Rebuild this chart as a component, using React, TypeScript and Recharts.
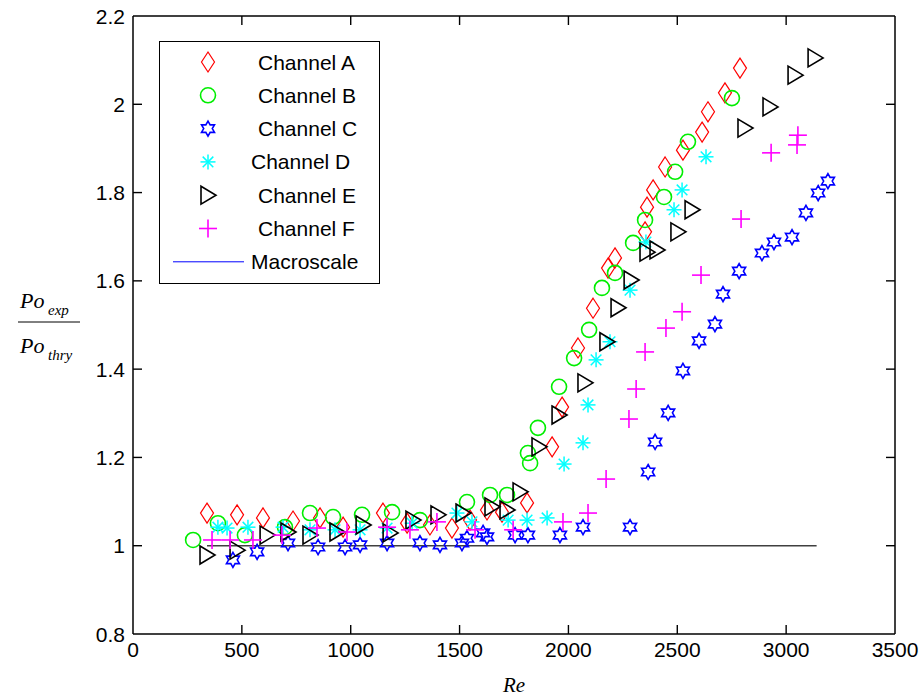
import React from "react";
import { ScatterChart, Scatter, XAxis, YAxis } from "recharts";

// Re (x) and Po_exp/Po_thry (y) for each channel
const reA = [340, 478, 597, 735, 859, 965, 1148, 1259, 1364, 1465, 1548, 1626, 1695, 1810, 1925, 1971, 2044, 2113, 2182, 2214, 2352, 2361, 2389, 2444, 2526, 2614, 2641, 2719, 2788];
const poA = [1.074, 1.07, 1.063, 1.056, 1.063, 1.042, 1.074, 1.051, 1.047, 1.04, 1.058, 1.081, 1.076, 1.097, 1.224, 1.314, 1.448, 1.538, 1.629, 1.652, 1.711, 1.767, 1.806, 1.858, 1.896, 1.937, 1.983, 2.026, 2.082];

const reB = [276, 390, 514, 698, 813, 919, 1052, 1190, 1318, 1534, 1640, 1718, 1824, 1814, 1860, 1957, 2026, 2095, 2154, 2214, 2297, 2352, 2439, 2490, 2549, 2751];
const poB = [1.013, 1.051, 1.024, 1.042, 1.074, 1.065, 1.07, 1.076, 1.058, 1.099, 1.115, 1.115, 1.187, 1.21, 1.267, 1.36, 1.425, 1.489, 1.584, 1.618, 1.686, 1.738, 1.79, 1.847, 1.915, 2.014];

const reC = [459, 570, 712, 850, 974, 1043, 1167, 1318, 1410, 1511, 1534, 1608, 1626, 1755, 1814, 1961, 2067, 2283, 2366, 2398, 2458, 2526, 2600, 2673, 2710, 2784, 2889, 2944, 3027, 3091, 3147, 3192];
const poC = [0.968, 0.986, 1.006, 0.997, 0.997, 1.002, 1.006, 1.006, 1.002, 1.006, 1.017, 1.029, 1.02, 1.024, 1.024, 1.024, 1.042, 1.042, 1.167, 1.235, 1.301, 1.396, 1.464, 1.502, 1.57, 1.622, 1.663, 1.688, 1.699, 1.754, 1.799, 1.826];

const reD = [390, 432, 528, 689, 813, 928, 1043, 1167, 1282, 1488, 1557, 1723, 1810, 1902, 1980, 2067, 2090, 2127, 2191, 2283, 2356, 2485, 2522, 2632];
const poD = [1.042, 1.04, 1.042, 1.042, 1.036, 1.036, 1.036, 1.04, 1.051, 1.074, 1.054, 1.058, 1.058, 1.063, 1.185, 1.233, 1.319, 1.421, 1.462, 1.579, 1.688, 1.761, 1.806, 1.881];

const reE = [340, 478, 616, 712, 813, 937, 1057, 1181, 1286, 1401, 1516, 1649, 1718, 1778, 1865, 1957, 2076, 2177, 2228, 2288, 2361, 2407, 2503, 2568, 2811, 2926, 3041, 3133];
const poE = [0.979, 0.99, 1.024, 1.031, 1.024, 1.031, 1.047, 1.029, 1.058, 1.07, 1.074, 1.088, 1.081, 1.122, 1.224, 1.296, 1.369, 1.462, 1.539, 1.602, 1.665, 1.67, 1.711, 1.761, 1.946, 1.994, 2.066, 2.105];

const reF = [363, 446, 551, 684, 845, 983, 1167, 1272, 1396, 1571, 1746, 1975, 2090, 2173, 2278, 2311, 2352, 2448, 2522, 2609, 2793, 2931, 3050, 3054];
const poF = [1.013, 1.013, 1.013, 1.024, 1.04, 1.031, 1.042, 1.036, 1.054, 1.036, 1.036, 1.054, 1.074, 1.151, 1.287, 1.355, 1.439, 1.493, 1.53, 1.613, 1.74, 1.89, 1.908, 1.93];

const reMacro = [340, 3140];
const poMacro = [1, 1];

const xTicks = [0, 500, 1000, 1500, 2000, 2500, 3000, 3500];
const yTicks = [0.8, 1, 1.2, 1.4, 1.6, 1.8, 2, 2.2];

const X_MIN = 0;
const X_MAX = 3500;
const Y_MIN = 0.8;
const Y_MAX = 2.2;
const TICK_LEN = 9;

const zip = (xs: number[], ys: number[]) => xs.map((x, i) => ({ x, y: ys[i] }));

const diamond = (color: string) => (p: any) => (
  <path
    d={`M${p.cx},${p.cy - 10} L${p.cx + 6.5},${p.cy} L${p.cx},${p.cy + 10} L${p.cx - 6.5},${p.cy} Z`}
    fill="none"
    stroke={color}
    strokeWidth={1.2}
  />
);

const circle = (color: string) => (p: any) => (
  <circle cx={p.cx} cy={p.cy} r={7.5} fill="none" stroke={color} strokeWidth={1.6} />
);

const hexagram = (color: string) => (p: any) => {
  const pts: string[] = [];
  for (let i = 0; i < 12; i++) {
    const r = i % 2 === 0 ? 7.5 : 4.3;
    const a = (Math.PI / 6) * i - Math.PI / 2;
    pts.push(`${p.cx + r * Math.cos(a)},${p.cy + r * Math.sin(a)}`);
  }
  return <polygon points={pts.join(" ")} fill="none" stroke={color} strokeWidth={1.6} />;
};

const asterisk = (color: string) => (p: any) => {
  const r = 7.5;
  return (
    <g stroke={color} strokeWidth={1.5}>
      <line x1={p.cx - r} y1={p.cy} x2={p.cx + r} y2={p.cy} />
      <line x1={p.cx} y1={p.cy - r} x2={p.cx} y2={p.cy + r} />
      <line x1={p.cx - 5.3} y1={p.cy - 5.3} x2={p.cx + 5.3} y2={p.cy + 5.3} />
      <line x1={p.cx - 5.3} y1={p.cy + 5.3} x2={p.cx + 5.3} y2={p.cy - 5.3} />
    </g>
  );
};

const triangle = (color: string) => (p: any) => (
  <path
    d={`M${p.cx - 7},${p.cy - 9} L${p.cx + 8},${p.cy} L${p.cx - 7},${p.cy + 9} Z`}
    fill="none"
    stroke={color}
    strokeWidth={1.6}
  />
);

const plus = (color: string) => (p: any) => (
  <g stroke={color} strokeWidth={1.6}>
    <line x1={p.cx - 9} y1={p.cy} x2={p.cx + 9} y2={p.cy} />
    <line x1={p.cx} y1={p.cy - 9} x2={p.cx} y2={p.cy + 9} />
  </g>
);

// inward axis tick marks, drawn as a marker at the frame edge
const tickMark = (dx: number, dy: number) => (p: any) => (
  <line x1={p.cx} y1={p.cy} x2={p.cx + dx * TICK_LEN} y2={p.cy + dy * TICK_LEN} stroke="#000" strokeWidth={1.4} />
);

const series = [
  { name: "Channel A", data: zip(reA, poA), color: "#ff0000", shape: diamond },
  { name: "Channel B", data: zip(reB, poB), color: "#00ee00", shape: circle },
  { name: "Channel C", data: zip(reC, poC), color: "#0000ff", shape: hexagram },
  { name: "Channel D", data: zip(reD, poD), color: "#00ffff", shape: asterisk },
  { name: "Channel E", data: zip(reE, poE), color: "#000000", shape: triangle },
  { name: "Channel F", data: zip(reF, poF), color: "#ff00ff", shape: plus },
];

const sans = "'Liberation Sans', Arial, sans-serif";
const serif = "'Liberation Serif', 'Times New Roman', serif";

const fmtY = (v: number) => String(+Number(v).toFixed(1));

function BottomTick(p: any) {
  return (
    <text x={p.x} y={p.y + 15} textAnchor="middle" fontFamily={sans} fontSize={21}>
      {p.payload.value}
    </text>
  );
}

function LeftTick(p: any) {
  return (
    <text x={p.x} y={p.y + 7.5} textAnchor="end" fontFamily={sans} fontSize={21}>
      {fmtY(p.payload.value)}
    </text>
  );
}

function MatlabLegend() {
  const rowH = 33.3;
  return (
    <svg width={222} height={244} style={{ display: "block" }}>
      <rect x={0.5} y={0.5} width={220} height={242} fill="#fff" stroke="#000" strokeWidth={1} />
      {series.map((s, i) => {
        const cy = 21 + i * rowH;
        return (
          <g key={s.name}>
            {s.shape(s.color)({ cx: 49, cy })}
            <text x={s.name === "Channel D" ? 92 : 99} y={cy + 7.5} fontFamily={sans} fontSize={21}>
              {s.name}
            </text>
          </g>
        );
      })}
      <line x1={14} y1={21 + 6 * rowH} x2={85} y2={21 + 6 * rowH} stroke="#0000ff" strokeWidth={1} />
      <text x={92} y={21 + 6 * rowH + 7.5} fontFamily={sans} fontSize={21}>
        Macroscale
      </text>
    </svg>
  );
}

function YLabel(props: any) {
  const vb = props.viewBox || {};
  const cy = vb.y + vb.height / 2;
  return (
    <g fontFamily={serif} fontStyle="italic" fill="#000">
      <text x={20} y={cy - 17} fontSize={22}>Po</text>
      <text x={48} y={cy - 10} fontSize={15}>exp</text>
      <line x1={18} y1={cy - 3} x2={80} y2={cy - 3} stroke="#000" strokeWidth={1} />
      <text x={20} y={cy + 28} fontSize={22}>Po</text>
      <text x={48} y={cy + 35} fontSize={15}>thry</text>
    </g>
  );
}

export default function App() {
  const innerX = xTicks.slice(1, -1);
  const innerY = yTicks.slice(1, -1);
  const tickSets = [
    { key: "tb", data: innerX.map((t) => ({ x: t, y: Y_MIN })), shape: tickMark(0, -1) },
    { key: "tt", data: innerX.map((t) => ({ x: t, y: Y_MAX })), shape: tickMark(0, 1) },
    { key: "tl", data: innerY.map((t) => ({ x: X_MIN, y: t })), shape: tickMark(1, 0) },
    { key: "tr", data: innerY.map((t) => ({ x: X_MAX, y: t })), shape: tickMark(-1, 0) },
  ];
  return (
    <div style={{ position: "absolute", left: 0, top: 0, width: 921, height: 700, background: "#fff" }}>
      <ScatterChart width={921} height={700} margin={{ top: 15, right: 25, bottom: 0, left: 0 }}>
        <XAxis
          xAxisId="b"
          type="number"
          dataKey="x"
          domain={[X_MIN, X_MAX]}
          ticks={xTicks}
          height={66}
          tickSize={0}
          tickMargin={8}
          tickLine={false}
          stroke="#000"
          strokeWidth={1.5}
          tick={<BottomTick />}
          label={{
            value: "Re",
            position: "insideBottom",
            offset: 8,
            style: { fontFamily: serif, fontStyle: "italic", fontSize: 21, fill: "#000" },
          }}
        />
        <XAxis
          xAxisId="t"
          orientation="top"
          type="number"
          dataKey="x"
          domain={[X_MIN, X_MAX]}
          ticks={xTicks}
          height={1}
          tickLine={false}
          tick={false}
          stroke="#000"
          strokeWidth={1.5}
        />
        <YAxis
          yAxisId="l"
          type="number"
          dataKey="y"
          domain={[Y_MIN, Y_MAX]}
          ticks={yTicks}
          width={133}
          tickSize={0}
          tickMargin={8}
          tickLine={false}
          stroke="#000"
          strokeWidth={1.5}
          tick={<LeftTick />}
          label={<YLabel />}
        />
        <YAxis
          yAxisId="r"
          orientation="right"
          type="number"
          dataKey="y"
          domain={[Y_MIN, Y_MAX]}
          ticks={yTicks}
          width={1}
          tickLine={false}
          tick={false}
          stroke="#000"
          strokeWidth={1.5}
        />
        {tickSets.map((t) => (
          <Scatter
            key={t.key}
            xAxisId="b"
            yAxisId="l"
            data={t.data}
            shape={t.shape}
            isAnimationActive={false}
          />
        ))}
        <Scatter
          name="Macroscale"
          xAxisId="b"
          yAxisId="l"
          data={zip(reMacro, poMacro)}
          line={{ stroke: "#404040", strokeWidth: 1.5 }}
          shape={() => <g />}
          isAnimationActive={false}
        />
        {series.map((s) => (
          <Scatter
            key={s.name}
            name={s.name}
            xAxisId="b"
            yAxisId="l"
            data={s.data}
            fill={s.color}
            shape={s.shape(s.color)}
            isAnimationActive={false}
          />
        ))}
      </ScatterChart>
      <div style={{ position: "absolute", left: 159, top: 41 }}>
        <MatlabLegend />
      </div>
    </div>
  );
}
